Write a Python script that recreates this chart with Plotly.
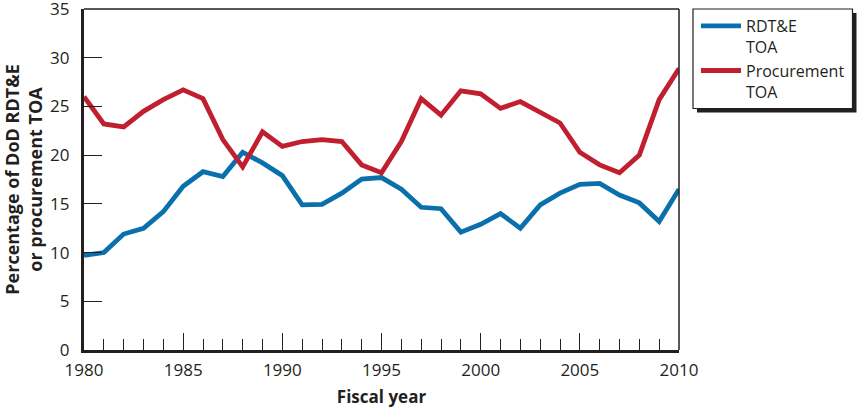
import plotly.graph_objects as go

years = list(range(1980, 2011))
rdte = [9.7, 10.0, 11.9, 12.5, 14.2, 16.8, 18.3, 17.8, 20.3, 19.2, 17.9,
        14.9, 14.95, 16.1, 17.55, 17.7, 16.5, 14.65, 14.5, 12.1, 12.9,
        14.0, 12.5, 14.9, 16.1, 17.0, 17.1, 15.9, 15.1, 13.2, 16.5]
procurement = [26.0, 23.2, 22.9, 24.5, 25.7, 26.7, 25.8, 21.6, 18.8, 22.4, 20.9,
               21.4, 21.6, 21.4, 19.0, 18.2, 21.4, 25.8, 24.1, 26.6, 26.3,
               24.8, 25.5, 24.4, 23.3, 20.3, 19.0, 18.2, 20.0, 25.7, 28.9]
series_names = ["RDT&E<br>TOA", "Procurement<br>TOA"]
x_ticks = [1980, 1985, 1990, 1995, 2000, 2005, 2010]
y_ticks = [0, 5, 10, 15, 20, 25, 30, 35]

BLUE = "#0a70ab"
RED = "#c01f2f"
INK = "#231f20"
FONT = "Open Sans"

fig = go.Figure()
fig.add_trace(go.Scatter(x=years, y=rdte, mode="lines", name=series_names[0],
                         line=dict(color=BLUE, width=4.8), cliponaxis=False))
fig.add_trace(go.Scatter(x=years, y=procurement, mode="lines", name=series_names[1],
                         line=dict(color=RED, width=4.8), cliponaxis=False))

PW = 858 - 84 - 179
PH = 411 - 9 - 61

def px_x(p):
    return (p - 84) / PW

def px_y(p):
    return (350 - p) / PH

fig.update_layout(
    width=858, height=411,
    margin=dict(l=84, r=179, t=9, b=61, autoexpand=False),
    paper_bgcolor="white", plot_bgcolor="white",
    font=dict(family=FONT, color=INK, size=16),
    showlegend=True,
    legend=dict(x=px_x(696), y=px_y(9), xanchor="left", yanchor="top",
                bgcolor="rgba(0,0,0,0)", borderwidth=0,
                font=dict(family=FONT, size=16, color=INK),
                valign="top", itemwidth=40, tracegroupgap=4),
    xaxis=dict(range=[1980, 2010], tickvals=x_ticks, ticks="inside", ticklen=17,
               tickwidth=1.3, tickcolor=INK, showline=True, linewidth=3.2,
               linecolor=INK, showgrid=False, zeroline=False, automargin=False,
               tickfont=dict(size=17, family=FONT), ticklabelstandoff=2,
               minor=dict(dtick=1, ticks="inside", ticklen=11, tickwidth=1.3,
                          tickcolor=INK, showgrid=False),
               title=dict(text="<b>Fiscal year</b>", font=dict(size=17, family=FONT),
                          standoff=12)),
    yaxis=dict(range=[0, 35.001], tickvals=y_ticks, ticks="inside", ticklen=18,
               tickwidth=1.3, tickcolor=INK, showline=True, linewidth=3.2,
               linecolor=INK, showgrid=False, zeroline=False, automargin=False,
               ticklabeloverflow="allow", ticklabelstandoff=8,
               tickfont=dict(size=17, family=FONT),
               title=dict(text="<b>Percentage of DoD RDT&E<br>or procurement TOA</b>",
                          font=dict(size=18, family=FONT), standoff=9)),
)

# thin top and right frame lines
fig.add_shape(type="line", xref="paper", yref="paper", x0=0, x1=1, y0=1, y1=1,
              line=dict(color=INK, width=1.5))
fig.add_shape(type="line", xref="paper", yref="paper", x0=1, x1=1, y0=0, y1=1,
              line=dict(color=INK, width=1.5))
# legend drop shadow and box
fig.add_shape(type="rect", xref="paper", yref="paper",
              x0=px_x(697), x1=px_x(856.5), y0=px_y(112.5), y1=px_y(13),
              fillcolor=INK, line=dict(width=0), layer="above")
fig.add_shape(type="rect", xref="paper", yref="paper",
              x0=px_x(693), x1=px_x(852.5), y0=px_y(108.5), y1=px_y(9),
              fillcolor="white", line=dict(color=INK, width=1.2), layer="above")

fig.write_html("out.html", config={"displayModeBar": False},
               post_script="document.body.style.margin='0';document.body.style.padding='0';")
